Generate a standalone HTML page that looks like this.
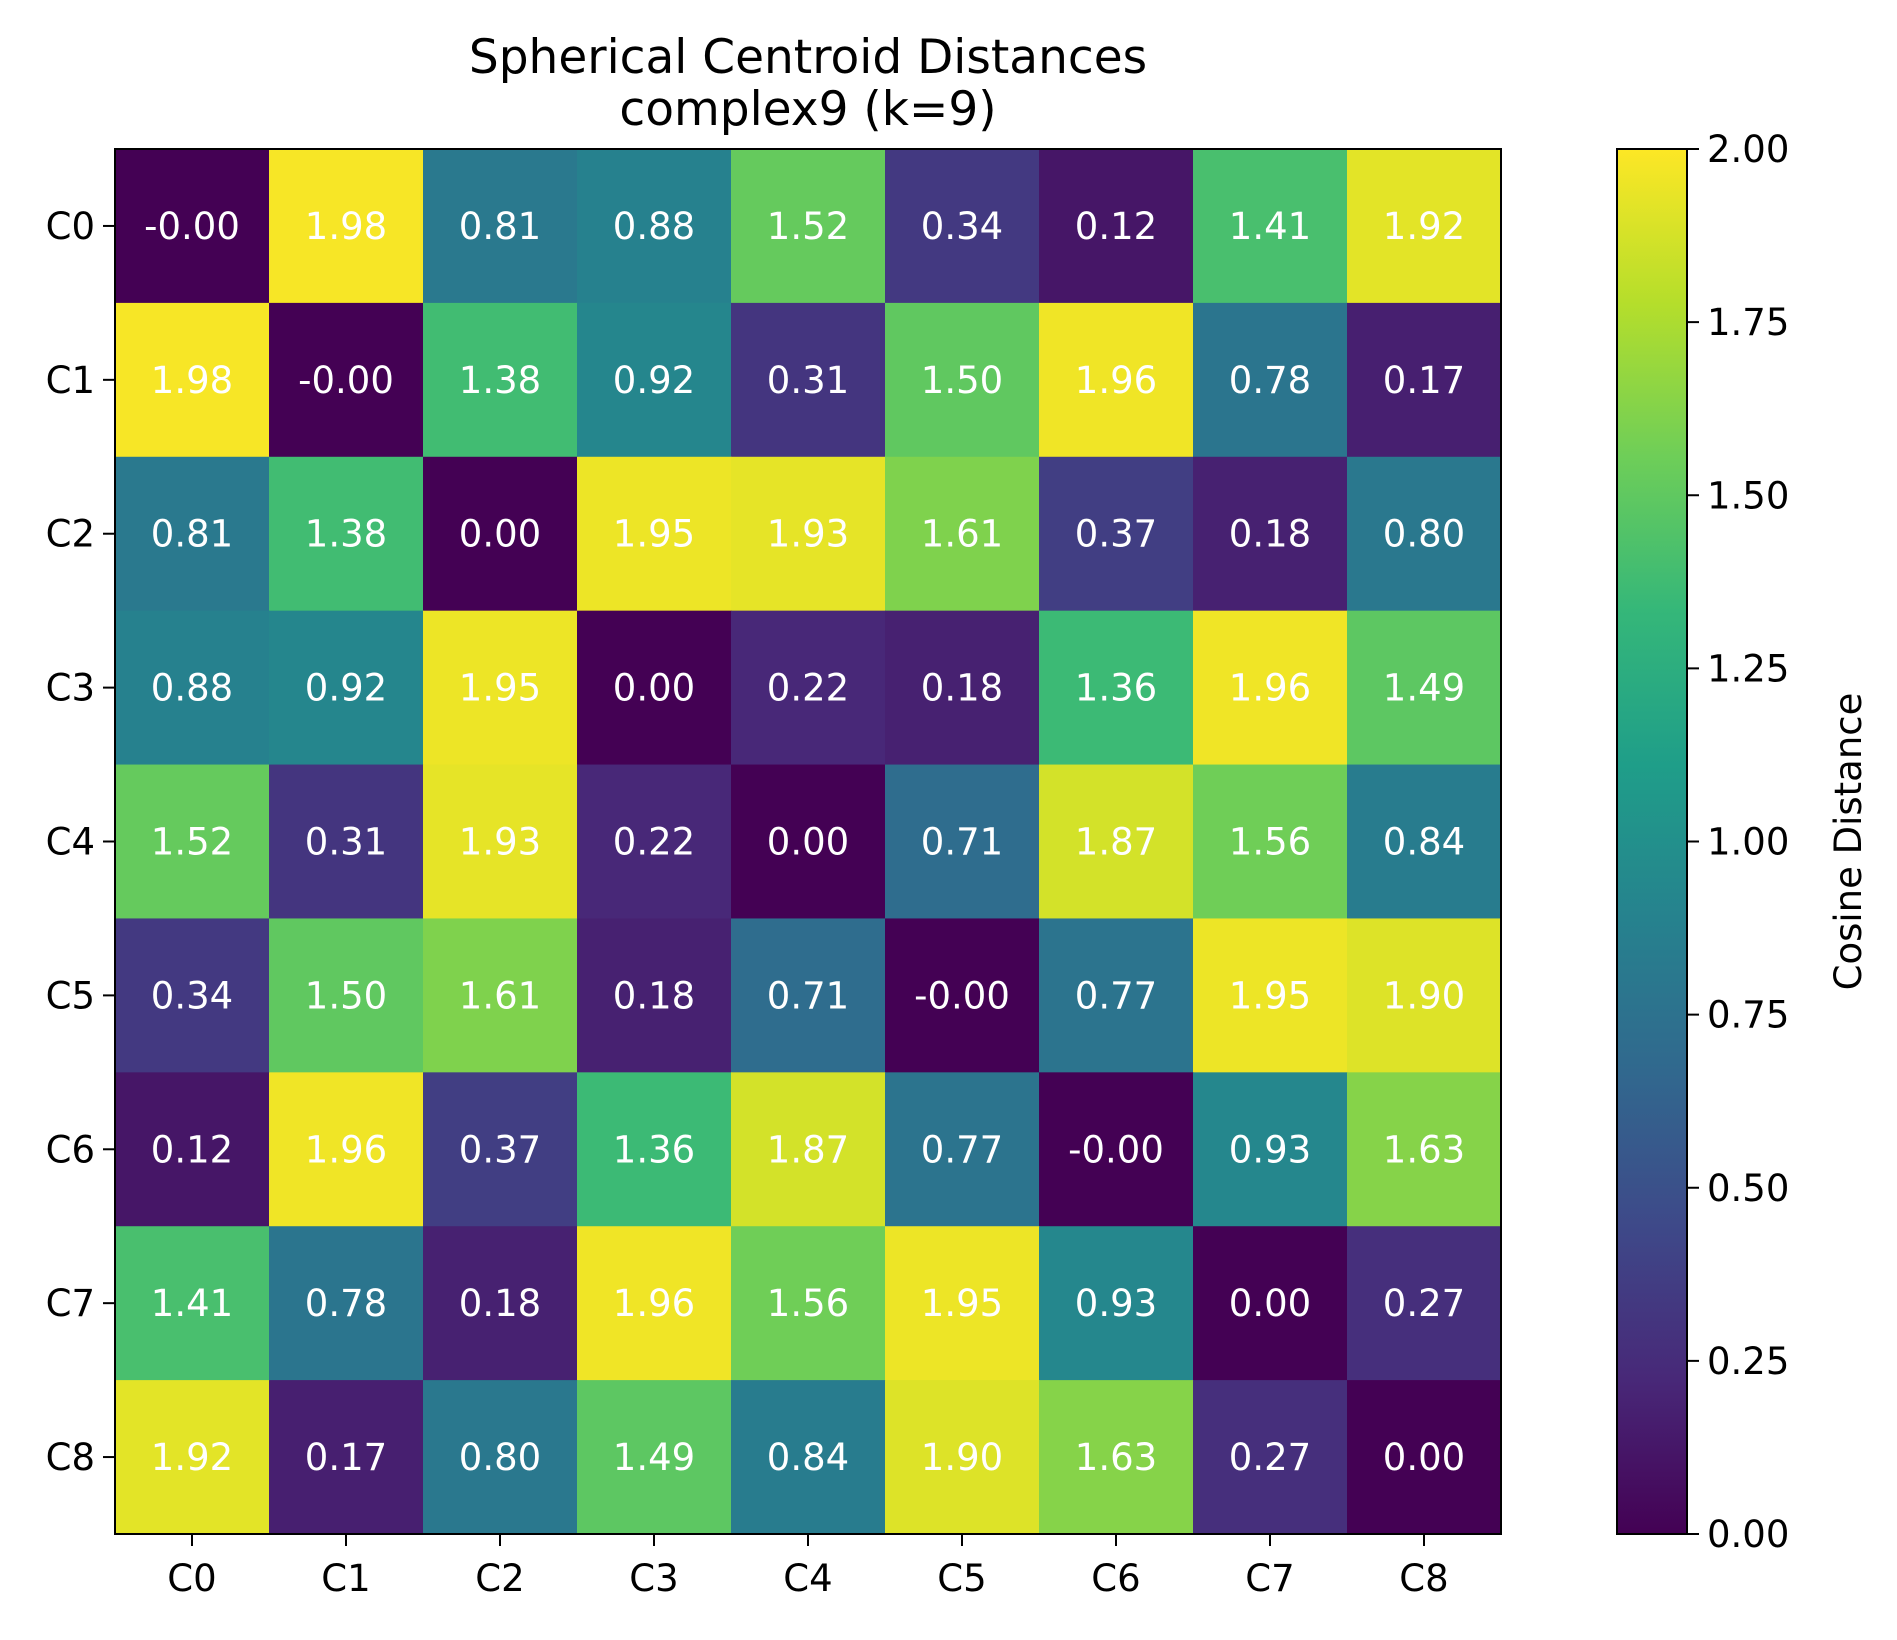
<!DOCTYPE html>
<html><head><meta charset="utf-8"><style>
html,body{margin:0;padding:0;background:#fff;}
svg text{font-family:"DejaVu Sans","Liberation Sans",sans-serif;}
</style></head><body>
<svg id="chart" width="1897" height="1635" xmlns="http://www.w3.org/2000/svg">
<defs><linearGradient id="vg" x1="0" y1="1" x2="0" y2="0"></linearGradient></defs>
<text x="808" y="73" font-size="47" text-anchor="middle">Spherical Centroid Distances</text>
<text x="808" y="125" font-size="47" text-anchor="middle">complex9 (k=9)</text>
<g id="cells"></g>
<g id="axes"></g>
</svg>
<script>
const labels = ["C0","C1","C2","C3","C4","C5","C6","C7","C8"];
const rowC0 = [-0.00,1.98,0.81,0.88,1.52,0.34,0.12,1.41,1.92];
const rowC1 = [1.98,-0.00,1.38,0.92,0.31,1.50,1.96,0.78,0.17];
const rowC2 = [0.81,1.38,0.00,1.95,1.93,1.61,0.37,0.18,0.80];
const rowC3 = [0.88,0.92,1.95,0.00,0.22,0.18,1.36,1.96,1.49];
const rowC4 = [1.52,0.31,1.93,0.22,0.00,0.71,1.87,1.56,0.84];
const rowC5 = [0.34,1.50,1.61,0.18,0.71,-0.00,0.77,1.95,1.90];
const rowC6 = [0.12,1.96,0.37,1.36,1.87,0.77,-0.00,0.93,1.63];
const rowC7 = [1.41,0.78,0.18,1.96,1.56,1.95,0.93,0.00,0.27];
const rowC8 = [1.92,0.17,0.80,1.49,0.84,1.90,1.63,0.27,0.00];
const matrix = [rowC0,rowC1,rowC2,rowC3,rowC4,rowC5,rowC6,rowC7,rowC8];
const cbTicks = [0,0.25,0.5,0.75,1.0,1.25,1.5,1.75,2.0];
const vmin = 0, vmax = 2;

const NS="http://www.w3.org/2000/svg";
const L=115,T=149,R=1501,B=1534;
const cw=(R-L)/labels.length, ch=(B-T)/labels.length;
const stops=[[68,1,84],[72,40,120],[62,73,137],[49,104,142],[38,130,142],[31,158,137],[53,183,121],[110,206,88],[181,222,43],[253,231,37]];
function viridis(t){t=Math.max(0,Math.min(1,t));const p=t*(stops.length-1);const i=Math.min(Math.floor(p),stops.length-2);const f=p-i;
 const c=stops[i].map((v,k)=>Math.round(v+(stops[i+1][k]-v)*f));return `rgb(${c[0]},${c[1]},${c[2]})`;}
function mk(tag,attrs,parent){const e=document.createElementNS(NS,tag);for(const k in attrs)e.setAttribute(k,attrs[k]);parent.appendChild(e);return e;}
function fmt(v){return (Object.is(v,-0)?'-':'')+v.toFixed(2);}
const cells=document.getElementById('cells'), axes=document.getElementById('axes');
const xPos=i=>L+i*cw, yPos=j=>T+j*ch;
matrix.forEach((row,j)=>row.forEach((v,i)=>{
 const r=mk('rect',{x:xPos(i),y:yPos(j),width:cw+0.6,height:ch+0.6,fill:viridis((v-vmin)/(vmax-vmin))},cells);
 
 
 const t=mk('text',{x:xPos(i)+cw/2,y:yPos(j)+ch/2+13,'font-size':37,fill:'#fff','text-anchor':'middle'},cells);
 t.textContent=fmt(v);
 
 
}));
const frame=mk('rect',{x:L,y:T,width:R-L,height:B-T,fill:'none',stroke:'#000','stroke-width':2},axes);


labels.forEach((lab,i)=>{
 const cx=xPos(i)+cw/2;
 mk('line',{x1:cx,y1:B,x2:cx,y2:B+12,stroke:'#000','stroke-width':2},axes);
 const tx=mk('text',{x:cx,y:B+57,'font-size':37,'text-anchor':'middle'},axes);tx.textContent=lab;
 
 
 const cy=yPos(i)+ch/2;
 mk('line',{x1:L-12,y1:cy,x2:L,y2:cy,stroke:'#000','stroke-width':2},axes);
 const ty=mk('text',{x:L-20,y:cy+13,'font-size':37,'text-anchor':'end'},axes);ty.textContent=lab;
 
 
});
const g=document.getElementById('vg');
stops.forEach((s,i)=>mk('stop',{offset:i/(stops.length-1),'stop-color':`rgb(${s[0]},${s[1]},${s[2]})`},g));
const CL=1617,CR=1687;
const cb=mk('rect',{x:CL,y:T,width:CR-CL,height:B-T,fill:'url(#vg)',stroke:'#000','stroke-width':2},axes);


const cbY=v=>B-(v-vmin)/(vmax-vmin)*(B-T);
cbTicks.forEach(v=>{
 const y=cbY(v);
 mk('line',{x1:CR,y1:y,x2:CR+12,y2:y,stroke:'#000','stroke-width':2},axes);
 const t=mk('text',{x:CR+20,y:y+13,'font-size':37},axes);t.textContent=v.toFixed(2);
 
 
});
const cl=mk('text',{x:0,y:0,'font-size':37,'text-anchor':'middle',transform:`translate(1861,${(T+B)/2}) rotate(-90)`},axes);
cl.textContent='Cosine Distance';


</script>
</body></html>
